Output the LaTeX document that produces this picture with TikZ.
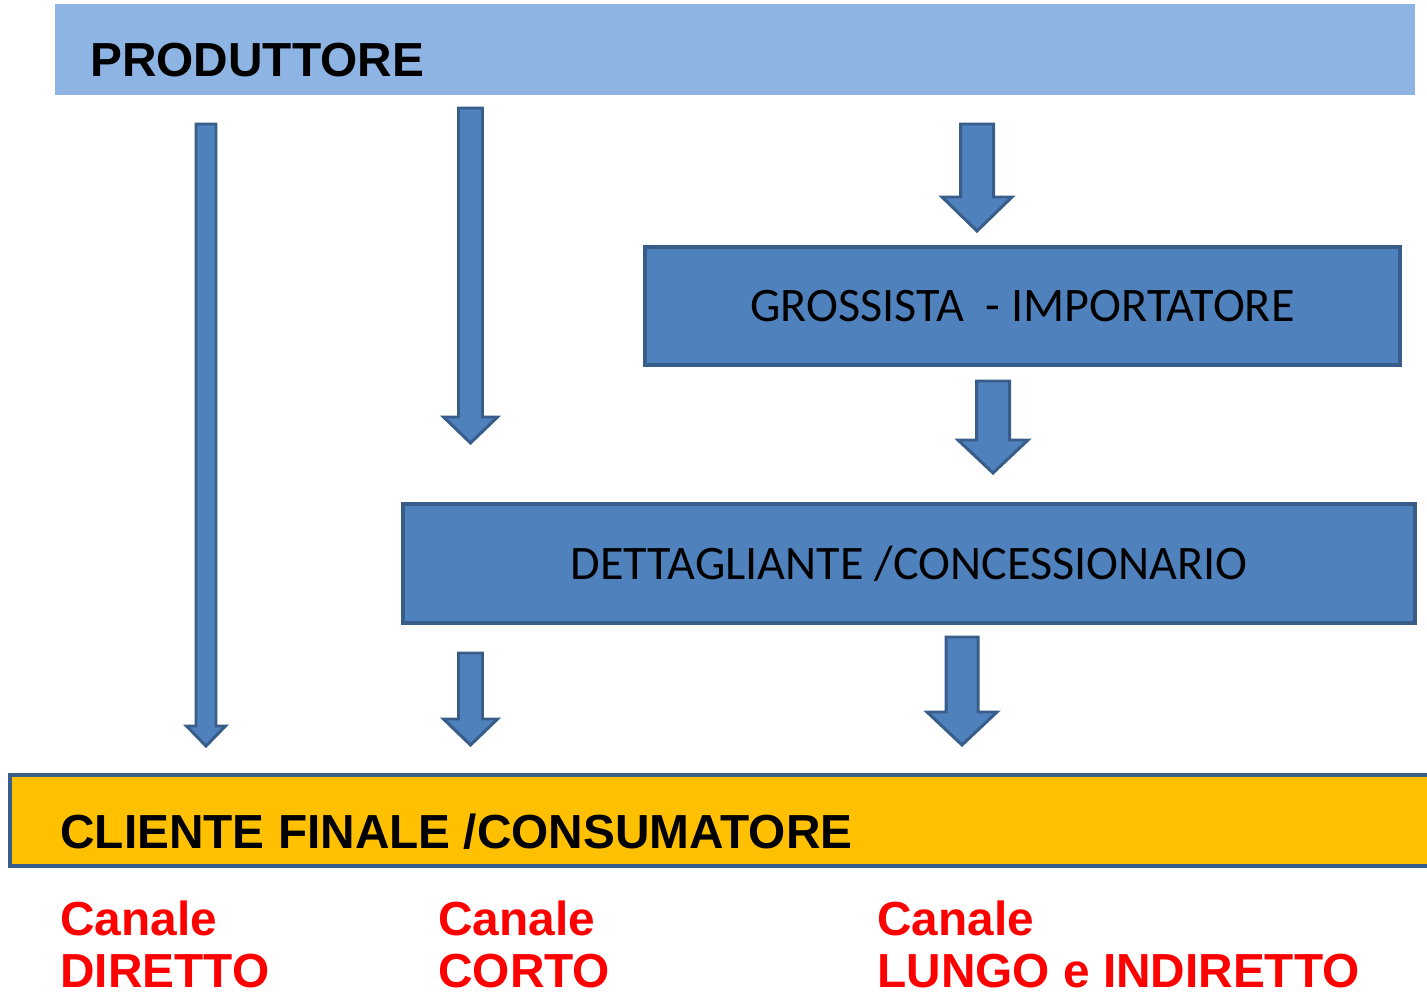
\documentclass[tikz,border=0pt]{standalone}
\usepackage{fontspec}
\setmainfont{Liberation Sans}
\newfontfamily\carlitofont{Carlito}
\definecolor{prodblue}{HTML}{8EB4E3}
\definecolor{boxblue}{HTML}{4F81BD}
\definecolor{edgeblue}{HTML}{385D8A}
\definecolor{clientyellow}{HTML}{FFC000}
\definecolor{chanred}{HTML}{FF0000}
\tikzset{
  bluebox/.style={draw=edgeblue, fill=boxblue, line width=2.2pt, rectangle, inner sep=0pt,
    font=\carlitofont\fontsize{27.4}{31}\selectfont, text=black},
  bigtext/.style={font=\bfseries\fontsize{27.2}{31}\selectfont, text=black, inner sep=0pt, anchor=base west},
  redtext/.style={font=\bfseries\fontsize{27.2}{31}\selectfont, text=chanred, inner sep=0pt, anchor=base west},
  blockarrow/.style={draw=edgeblue, fill=boxblue, line width=1.7pt, line join=miter}
}
\newcommand\barrow[6]{%
  \draw[blockarrow] ({#1-#5},#2) -- ({#1+#5},#2) -- ({#1+#5},#3) -- ({#1+#6},#3) -- (#1,#4)
    -- ({#1-#6},#3) -- ({#1-#5},#3) -- cycle;}
\begin{document}
\begin{tikzpicture}[x=0.02cm,y=-0.02cm]
\useasboundingbox (0,0) rectangle (1427,997);
\clip (0,0) rectangle (1427,997);
% producer bar
\fill[prodblue] (55,4) rectangle (1415,95);
\node[bigtext] (prod) at (90,77) {PRODUTTORE};
% intermediate boxes
\node[bluebox, minimum width=15.1cm, minimum height=2.36cm] (gross) at (1022.5,306) {GROSSISTA\ \ - IMPORTATORE};
\node[bluebox, minimum width=20.24cm, minimum height=2.38cm] (dett) at (909,563.5) {DETTAGLIANTE /CONCESSIONARIO};
% client bar
\draw[draw=edgeblue, fill=clientyellow, line width=2.5pt] (10,775) rectangle (1445,866);
\node[bigtext] (client) at (60,848) {CLIENTE FINALE /CONSUMATORE};
% block arrows
\barrow{206}{124}{726}{746}{10}{19.5}
\barrow{470.5}{108}{417}{443}{12}{27}
\barrow{977}{124}{197}{231}{16.5}{35}
\barrow{993}{381}{440}{473}{16.5}{35}
\barrow{470.5}{653}{719}{745}{12}{27}
\barrow{962}{637}{712}{745}{16}{35}
% channel labels
\node[redtext] (c1a) at (60,935) {Canale};
\node[redtext] (c1b) at (60,987) {DIRETTO};
\node[redtext] (c2a) at (438,935) {Canale};
\node[redtext] (c2b) at (438,987) {CORTO};
\node[redtext] (c3a) at (877,935) {Canale};
\node[redtext] (c3b) at (877,987) {LUNGO e INDIRETTO};
\end{tikzpicture}
\end{document}
